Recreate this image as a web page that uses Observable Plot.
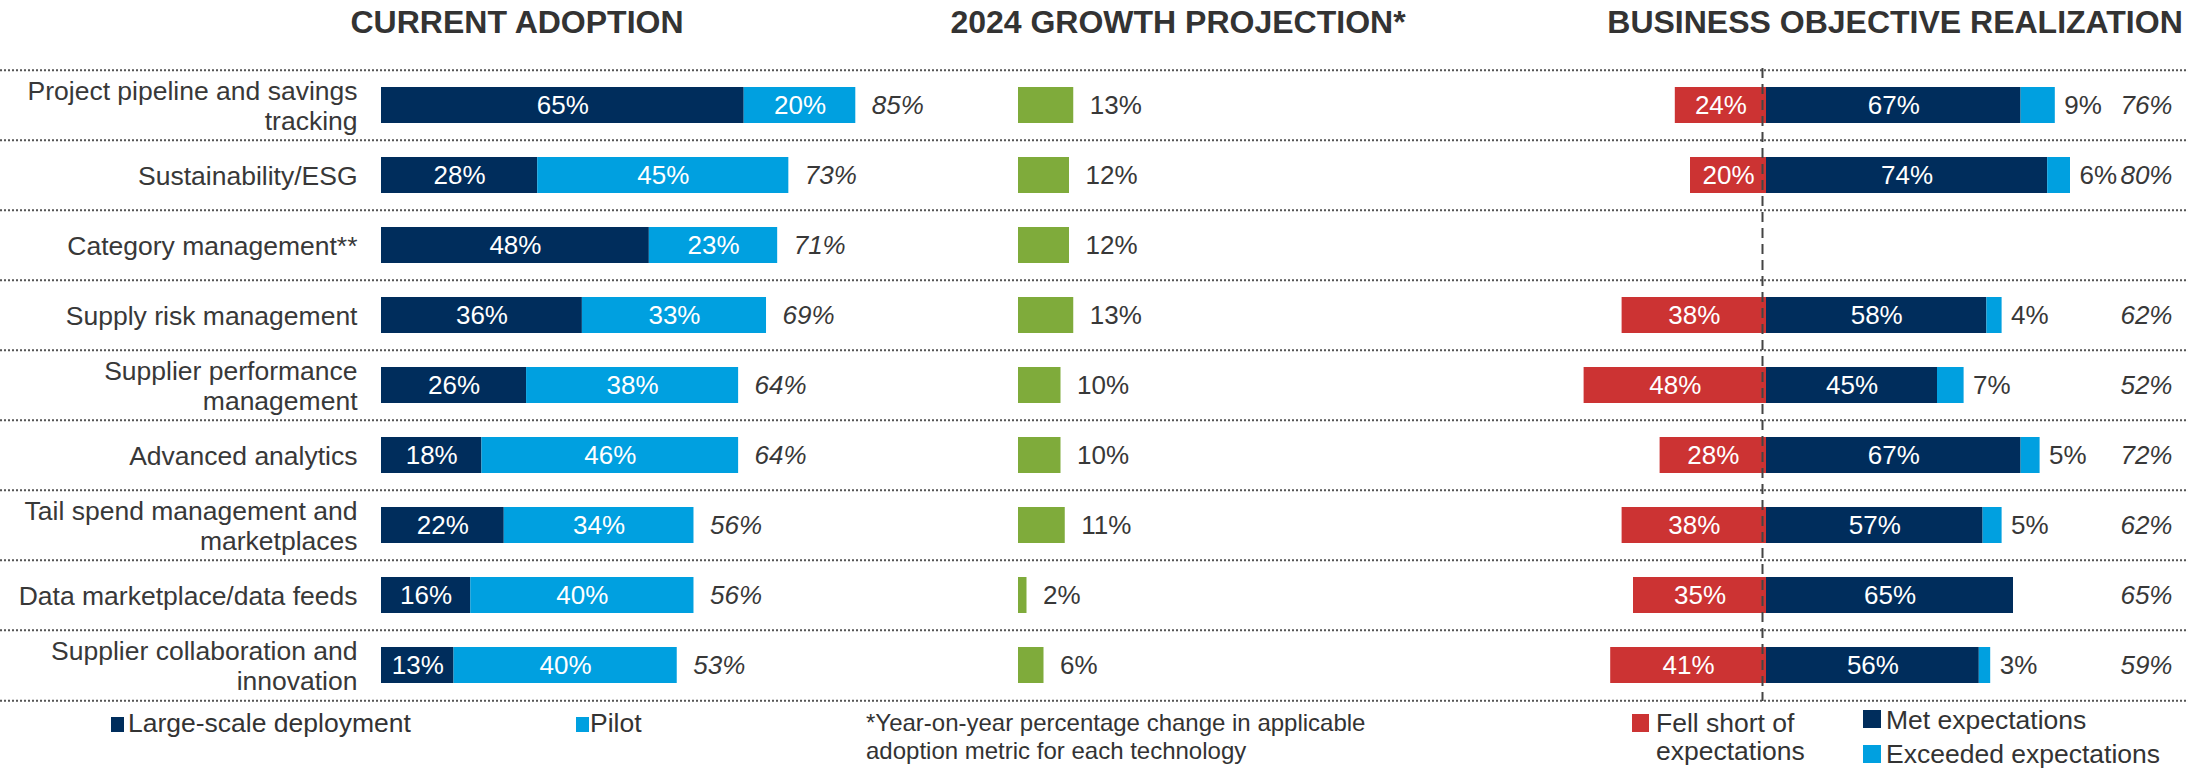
<!DOCTYPE html>
<html>
<head>
<meta charset="utf-8">
<script src="https://cdn.jsdelivr.net/npm/d3@7"></script>
<script src="https://cdn.jsdelivr.net/npm/@observablehq/plot@0.6"></script>
<style>
  body { margin: 0; background: #fff; font-family: "Liberation Sans", Arial, sans-serif; color: #333; }
  #wrap { position: relative; width: 2186px; height: 769px; overflow: hidden; }
  .title { position: absolute; top: 6px; transform: translateX(-50%); font-weight: bold; font-size: 32px; line-height: 32px; white-space: nowrap; color: #333; }
  #charts { position: absolute; left: 0; top: 64px; width: 2186px; height: 641px; }
  #charts svg { position: absolute; left: 0; top: 0; }
  .leg { position: absolute; font-size: 26.5px; line-height: 28px; color: #333; }
  .sw { position: absolute; }
  .note { position: absolute; font-size: 24px; line-height: 28px; color: #333; white-space: nowrap; }
</style>
</head>
<body>
<div id="wrap">
  <div id="titles"></div>
  <div id="charts"></div>
  <div id="legend"></div>
</div>
<script>
// ---------- data ----------
const categories = [
  "Project pipeline and savings\ntracking",
  "Sustainability/ESG",
  "Category management**",
  "Supply risk management",
  "Supplier performance\nmanagement",
  "Advanced analytics",
  "Tail spend management and\nmarketplaces",
  "Data marketplace/data feeds",
  "Supplier collaboration and\ninnovation"
];
const adoptionSeries = ["Large-scale deployment", "Pilot"];
const deployment = [65, 28, 48, 36, 26, 18, 22, 16, 13];
const pilot = [20, 45, 23, 33, 38, 46, 34, 40, 40];
const adoptionTotal = [85, 73, 71, 69, 64, 64, 56, 56, 53];

const growth = [13, 12, 12, 13, 10, 10, 11, 2, 6];

const objectiveSeries = ["Fell short of expectations", "Met expectations", "Exceeded expectations"];
const fellShort = [24, 20, null, 38, 48, 28, 38, 35, 41];
const met = [67, 74, null, 58, 45, 67, 57, 65, 56];
const exceeded = [9, 6, null, 4, 7, 5, 5, 0, 3];
const objectiveTotal = [76, 80, null, 62, 52, 72, 62, 65, 59];

const titles = ["CURRENT ADOPTION", "2024 GROWTH PROJECTION*", "BUSINESS OBJECTIVE REALIZATION"];
const footnote = ["*Year-on-year percentage change in applicable", "adoption metric for each technology"];

// ---------- styles / layout ----------
const NAVY = "#002d5c", BLUE = "#00a0e0", RED = "#cc3333", GREEN = "#7fab3b", TXT = "#383838";
const W = 2186, H = 641, MT = 4, MB = 4, FS = 26.5;
const step = (H - MT - MB) / categories.length;
const font = {background: "transparent", fontFamily: "'Liberation Sans', Arial, sans-serif", fontSize: FS + "px", overflow: "visible"};
const yScale = {domain: categories, paddingInner: 0.49, paddingOuter: 0.245, axis: null};

// ---------- tables ----------
const adoptRows = categories.flatMap((c, i) => [
  {cat: c, type: adoptionSeries[0], value: deployment[i]},
  {cat: c, type: adoptionSeries[1], value: pilot[i]}
]);
const adoptTot = categories.map((c, i) => ({cat: c, total: adoptionTotal[i]}));
const growthRows = categories.map((c, i) => ({cat: c, value: growth[i]}));
const objRows = categories.flatMap((c, i) => fellShort[i] == null ? [] : [
  {cat: c, type: objectiveSeries[0], value: -fellShort[i]},
  {cat: c, type: objectiveSeries[1], value: met[i]},
  {cat: c, type: objectiveSeries[2], value: exceeded[i]}
]);
const objEx = categories.map((c, i) => ({cat: c, met: met[i], ex: exceeded[i], total: objectiveTotal[i]}))
  .filter(d => d.total != null);

// ---------- chart A: current adoption ----------
const chartA = Plot.plot({
  width: W, height: H, marginTop: MT, marginBottom: MB, marginLeft: 381, marginRight: 0,
  style: font,
  x: {domain: [0, 100], range: [381, 939], axis: null},
  y: yScale,
  color: {domain: adoptionSeries, range: [NAVY, BLUE]},
  marks: [
    Plot.barX(adoptRows, Plot.stackX({x: "value", y: "cat", fill: "type"})),
    Plot.text(adoptRows, Plot.stackX({x: "value", y: "cat", text: d => d.value + "%", fill: "white", fontSize: 26})),
    Plot.text(adoptTot, {x: "total", y: "cat", text: d => d.total + "%", dx: 16, textAnchor: "start", fontStyle: "italic", fill: TXT, fontSize: 26}),
    Plot.axisY({label: null, tickSize: 0, tickPadding: 24, fontSize: FS, lineHeight: 1.15, fill: TXT})
  ]
});

// ---------- chart B: growth projection (also draws row separators) ----------
const chartB = Plot.plot({
  width: W, height: H, marginTop: MT, marginBottom: MB, marginLeft: 0, marginRight: 0,
  style: font,
  x: {domain: [0, 100], range: [1018, 1443], axis: null},
  y: yScale,
  marks: [
    Plot.ruleY(categories, {y: d => d, dy: -step / 2, stroke: "#555", strokeWidth: 2, strokeDasharray: "2 2"}),
    Plot.ruleY(categories.slice(-1), {y: d => d, dy: step / 2, stroke: "#555", strokeWidth: 2, strokeDasharray: "2 2"}),
    Plot.barX(growthRows, {x: "value", y: "cat", fill: GREEN}),
    Plot.text(growthRows, {x: "value", y: "cat", text: d => d.value + "%", dx: 16, textAnchor: "start", fill: TXT, fontSize: 26})
  ]
});

// ---------- chart C: business objective realization ----------
const chartC = Plot.plot({
  width: W, height: H, marginTop: MT, marginBottom: MB, marginLeft: 0, marginRight: 14,
  style: font,
  x: {domain: [-100, 100], range: [1766 - 380, 1766 + 380], axis: null},
  y: yScale,
  color: {domain: objectiveSeries, range: [RED, NAVY, BLUE]},
  marks: [
    Plot.barX(objRows, Plot.stackX({x: "value", y: "cat", fill: "type"})),
    Plot.text(objRows, Plot.stackX({x: "value", y: "cat",
      text: d => d.type === objectiveSeries[2] ? null : Math.abs(d.value) + "%", fill: "white", fontSize: 26})),
    Plot.text(objEx.filter(d => d.ex > 0), {x: d => d.met + d.ex, y: "cat", text: d => d.ex + "%", dx: 9, textAnchor: "start", fill: TXT, fontSize: 26}),
    Plot.text(objEx, {y: "cat", text: d => d.total + "%", frameAnchor: "right", textAnchor: "end", fontStyle: "italic", fill: TXT, fontSize: 26}),
    Plot.ruleX([0], {dx: -4, stroke: "#444", strokeWidth: 2, strokeDasharray: "10 6"})
  ]
});

const charts = document.getElementById("charts");
charts.append(chartA, chartB, chartC);

// ---------- titles ----------
const tDiv = document.getElementById("titles");
[517, 1178, 1895].forEach((cx, i) => {
  const d = document.createElement("div");
  d.className = "title"; d.style.left = cx + "px"; d.textContent = titles[i];
  tDiv.append(d);
});

// ---------- legend ----------
const lg = document.getElementById("legend");
function sw(x, y, w, h, c) {
  const s = document.createElement("div");
  s.className = "sw";
  Object.assign(s.style, {left: x + "px", top: y + "px", width: w + "px", height: h + "px", background: c});
  lg.append(s);
}
function txt(x, y, t, cls, extra) {
  const s = document.createElement("div");
  s.className = cls; s.textContent = t;
  Object.assign(s.style, {left: x + "px", top: y + "px"}, extra || {});
  lg.append(s);
}
sw(111, 717, 13, 15, NAVY); txt(128, 709, adoptionSeries[0], "leg", {whiteSpace: "nowrap"});
sw(576, 717, 13, 15, BLUE); txt(590, 709, adoptionSeries[1], "leg", {whiteSpace: "nowrap"});
txt(866, 709, footnote[0], "note"); txt(866, 737, footnote[1], "note");
sw(1632, 714, 17, 18, RED); txt(1656, 709, objectiveSeries[0], "leg", {width: "160px"});
sw(1863, 710, 18, 18, NAVY); txt(1886, 706, objectiveSeries[1], "leg", {whiteSpace: "nowrap"});
sw(1863, 745, 18, 18, BLUE); txt(1886, 740, objectiveSeries[2], "leg", {whiteSpace: "nowrap"});
</script>
</body>
</html>
